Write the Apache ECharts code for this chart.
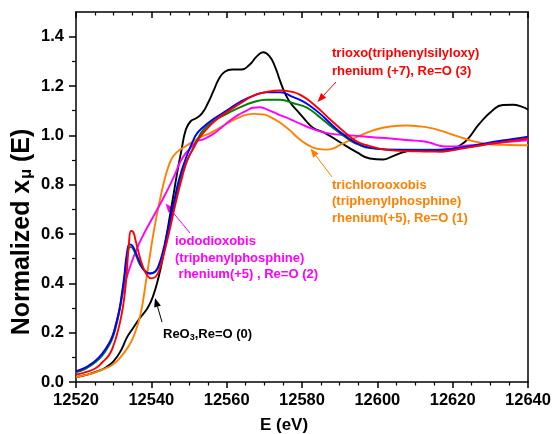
<!DOCTYPE html>
<html><head><meta charset="utf-8">
<script src="https://cdn.jsdelivr.net/npm/echarts@6/dist/echarts.min.js"></script>
<style>html,body{margin:0;padding:0;background:#fff}#c{width:554px;height:434px}</style>
</head><body><div id="c"></div>
<script>
const xMin = 12520, xMax = 12640, xStep = 20;
const yMajorTicks = [0, 0.2, 0.4, 0.6, 0.8, 1.0, 1.2, 1.4];
const yMinorTicks = [0.1, 0.3, 0.5, 0.7, 0.9, 1.1, 1.3];

const reo3 = [[12520,0.02],[12523,0.03],[12526,0.045],[12528,0.06],[12530,0.085],[12532,0.13],[12533.5,0.18],[12535,0.215],[12537,0.26],[12539,0.3],[12540.5,0.35],[12542,0.43],[12543,0.5],[12544,0.59],[12545,0.68],[12546,0.77],[12547,0.86],[12548,0.94],[12549.2,1.025],[12550.5,1.058],[12552,1.07],[12553.5,1.09],[12555,1.13],[12556.5,1.18],[12558,1.23],[12559.5,1.258],[12561.5,1.267],[12564,1.267],[12566,1.285],[12568,1.32],[12569.7,1.337],[12571.3,1.322],[12572.8,1.28],[12574.2,1.22],[12575.5,1.17],[12577,1.13],[12579,1.095],[12581,1.06],[12583,1.03],[12586,1.01],[12590,0.973],[12594.5,0.932],[12598,0.906],[12601.5,0.902],[12604,0.915],[12607,0.932],[12610,0.94],[12614,0.937],[12617.5,0.935],[12620,0.945],[12622,0.96],[12624,0.985],[12627,1.045],[12630.5,1.1],[12633.3,1.123],[12636,1.124],[12638.5,1.115],[12640,1.104]];
const trichloro = [[12520,0.02],[12523,0.03],[12525.3,0.04],[12527.5,0.053],[12529.7,0.07],[12531.5,0.095],[12533.3,0.13],[12534.7,0.165],[12535.9,0.21],[12536.9,0.26],[12537.7,0.32],[12538.4,0.39],[12539,0.45],[12540,0.55],[12541,0.64],[12542.3,0.74],[12543.5,0.82],[12544.7,0.88],[12545.8,0.915],[12547.2,0.937],[12549,0.955],[12551.1,0.975],[12553,0.993],[12555,1.005],[12557,1.02],[12560,1.047],[12563.5,1.074],[12567,1.087],[12569.7,1.085],[12571.5,1.075],[12573.3,1.06],[12575,1.042],[12576.8,1.02],[12578.5,0.995],[12580.3,0.973],[12582,0.957],[12583.9,0.946],[12586.5,0.942],[12588.5,0.948],[12590,0.96],[12592,0.975],[12594.5,0.993],[12598.9,1.02],[12603.4,1.036],[12607.8,1.04],[12611.3,1.036],[12614,1.03],[12617,1.018],[12619.3,1.006],[12622,0.993],[12624.6,0.98],[12627,0.971],[12630,0.964],[12635,0.961],[12640,0.96]];
const iodo = [[12520,0.04],[12522,0.05],[12523.5,0.065],[12525.3,0.085],[12527.1,0.113],[12528.5,0.145],[12529.7,0.185],[12530.7,0.24],[12531.5,0.29],[12532.3,0.35],[12533.2,0.41],[12534.2,0.46],[12536,0.535],[12538,0.6],[12540.5,0.67],[12543,0.74],[12545,0.8],[12546.5,0.85],[12547.6,0.89],[12549,0.925],[12550.5,0.95],[12552,0.975],[12553.8,0.984],[12556.5,1.006],[12558.5,1.03],[12560.9,1.06],[12563,1.082],[12565.3,1.1],[12567,1.112],[12568.8,1.114],[12570.5,1.106],[12572.4,1.094],[12574.5,1.08],[12576.8,1.066],[12579.5,1.047],[12582.1,1.03],[12585,1.015],[12587.4,1.007],[12592.7,1.0],[12598,0.993],[12603.4,0.987],[12608.7,0.98],[12612,0.976],[12614,0.97],[12616,0.96],[12618,0.955],[12620,0.955],[12625,0.96],[12630,0.966],[12635,0.974],[12640,0.98]];
const greenS = [[12520,0.04],[12522,0.05],[12523.5,0.063],[12525.3,0.082],[12527.1,0.11],[12528.5,0.142],[12529.7,0.178],[12530.7,0.23],[12531.5,0.285],[12532.2,0.35],[12532.8,0.415],[12533.6,0.51],[12534.4,0.548],[12535,0.543],[12536,0.51],[12537.2,0.47],[12538.5,0.447],[12539.6,0.44],[12541,0.447],[12542,0.47],[12543,0.515],[12544,0.575],[12545,0.645],[12546,0.715],[12547,0.78],[12548,0.835],[12549,0.88],[12550,0.915],[12551,0.945],[12552.3,0.985],[12553.8,1.022],[12556.5,1.058],[12560,1.087],[12563.5,1.113],[12567,1.134],[12570.6,1.144],[12574.2,1.144],[12577.7,1.13],[12580,1.12],[12582.1,1.105],[12585,1.07],[12587.4,1.04],[12590,1.01],[12592.7,0.98],[12595,0.962],[12598,0.948],[12603,0.942],[12611,0.942],[12616,0.942],[12622,0.948],[12626,0.957],[12631,0.97],[12636,0.98],[12640,0.99]];
const blueS = [[12520,0.044],[12522,0.055],[12523.5,0.068],[12525.3,0.088],[12527.1,0.118],[12528.5,0.15],[12529.7,0.187],[12530.7,0.24],[12531.5,0.293],[12532.2,0.36],[12532.8,0.427],[12533.5,0.52],[12534.2,0.558],[12534.8,0.555],[12535.7,0.53],[12536.8,0.49],[12538,0.455],[12539.6,0.44],[12541,0.447],[12542,0.475],[12543,0.525],[12544,0.59],[12545,0.66],[12546,0.73],[12547,0.8],[12548,0.855],[12549,0.9],[12550,0.94],[12551,0.975],[12552,1.005],[12553.5,1.03],[12556.5,1.066],[12560,1.1],[12563.5,1.135],[12567,1.16],[12570.6,1.174],[12574.2,1.174],[12577.7,1.155],[12580,1.14],[12582.1,1.12],[12585,1.085],[12587.4,1.05],[12590,1.015],[12592.7,0.985],[12595,0.965],[12598,0.95],[12603,0.942],[12611,0.94],[12616,0.94],[12622,0.95],[12626,0.96],[12631,0.974],[12636,0.985],[12640,0.995]];
const trioxo = [[12520,0.03],[12523,0.042],[12525.3,0.057],[12527,0.08],[12528.8,0.11],[12530,0.15],[12531,0.2],[12532,0.265],[12532.8,0.34],[12533.4,0.43],[12534,0.55],[12534.6,0.612],[12535.1,0.61],[12535.8,0.575],[12536.7,0.52],[12537.7,0.47],[12538.8,0.435],[12540,0.42],[12541,0.425],[12542,0.45],[12543,0.5],[12544,0.56],[12545,0.625],[12546,0.695],[12547,0.76],[12548,0.82],[12549,0.875],[12550,0.915],[12551.1,0.945],[12552.9,0.993],[12555,1.03],[12557,1.06],[12560,1.094],[12563.5,1.128],[12567,1.16],[12570.6,1.176],[12574.2,1.182],[12577.7,1.175],[12580,1.16],[12582.1,1.138],[12585,1.1],[12587.4,1.065],[12590,1.03],[12592.7,0.995],[12595,0.972],[12597.2,0.96],[12601.6,0.943],[12606,0.937],[12611,0.935],[12616,0.934],[12619,0.937],[12622,0.945],[12626,0.955],[12631,0.968],[12636,0.978],[12640,0.987]];

const FONT = '"Liberation Sans", Arial, sans-serif';
const chart = echarts.init(document.getElementById('c'), null, {renderer: 'canvas'});

function arrow(x1, y1, x2, y2, color) {
  const dx = x2 - x1, dy = y2 - y1, L = Math.hypot(dx, dy), ux = dx / L, uy = dy / L;
  const hl = 9, hw = 3.5;
  const bx = x2 - ux * hl, by = y2 - uy * hl;
  return [
    {type: 'line', silent: true, shape: {x1: x1, y1: y1, x2: bx, y2: by}, style: {stroke: color, lineWidth: 1}},
    {type: 'polygon', silent: true, shape: {points: [[x2, y2], [bx - uy * hw, by + ux * hw], [bx + uy * hw, by - ux * hw]]}, style: {fill: color}}
  ];
}

function lineSeries(name, data, color) {
  return {
    name: name, type: 'line', data: data, showSymbol: false, symbol: 'none',
    smooth: 0.5,
    lineStyle: {color: color, width: 1.9, join: 'round'}, itemStyle: {color: color},
    xAxisIndex: 0, yAxisIndex: 0, z: 3
  };
}

const axisLineStyle = {color: '#000', width: 1.5};
const labelStyle = {color: '#000', fontSize: 16.5, fontWeight: 'bold', fontFamily: FONT};

const option = {
  animation: false,
  backgroundColor: '#fff',
  grid: {left: 76, right: 26, top: 12, bottom: 52, containLabel: false},
  xAxis: [
    {type: 'value', position: 'bottom', min: xMin, max: xMax, interval: xStep,
     axisLine: {show: true, onZero: false, lineStyle: axisLineStyle},
     axisTick: {show: true, length: 6, lineStyle: {color: '#000', width: 1.5}},
     minorTick: {show: true, splitNumber: 4, length: 3.5, lineStyle: {color: '#000', width: 1.2}},
     axisLabel: Object.assign({margin: 10, formatter: v => String(v)}, labelStyle),
     splitLine: {show: false}, minorSplitLine: {show: false}},
    {type: 'value', position: 'top', min: xMin, max: xMax, interval: xStep,
     axisLine: {show: true, onZero: false, lineStyle: axisLineStyle},
     axisTick: {show: true, inside: true, length: 6, lineStyle: {color: '#000', width: 1.5}},
     minorTick: {show: true, splitNumber: 4, length: 3.5, lineStyle: {color: '#000', width: 1.2}},
     axisLabel: {show: false}, splitLine: {show: false}}
  ],
  yAxis: [
    {type: 'value', position: 'left', min: 0, max: 1.5,
     axisLine: {show: true, onZero: false, lineStyle: axisLineStyle},
     axisTick: {show: true, length: 7, customValues: yMajorTicks, lineStyle: {color: '#000', width: 1.5}},
     axisLabel: Object.assign({margin: 12, customValues: yMajorTicks, formatter: v => v.toFixed(1)}, labelStyle),
     splitLine: {show: false}},
    {type: 'value', position: 'left', min: 0, max: 1.5,
     axisLine: {show: false},
     axisTick: {show: true, length: 4, customValues: yMinorTicks, lineStyle: {color: '#000', width: 1.2}},
     axisLabel: {show: false}, splitLine: {show: false}},
    {type: 'value', position: 'right', min: 0, max: 1.5,
     axisLine: {show: true, onZero: false, lineStyle: axisLineStyle},
     axisTick: {show: false}, axisLabel: {show: false}, splitLine: {show: false}}
  ],
  series: [
    lineSeries('ReO3', reo3, '#000000'),
    lineSeries('trichlorooxobis', trichloro, '#ff8000'),
    lineSeries('iododioxobis', iodo, '#ff00ff'),
    lineSeries('green', greenS, '#008000'),
    lineSeries('blue', blueS, '#0000ff'),
    lineSeries('trioxo', trioxo, '#ff0000')
  ],
  graphic: [
    {type: 'text', silent: true, x: 22, y: 232, rotation: Math.PI / 2,
     style: {text: '{n|Normalized x}{m|μ}{n| (E)}', align: 'center', verticalAlign: 'middle',
       rich: {n: {fontSize: 25, fontWeight: 'bold', fontFamily: FONT, fill: '#000'},
              m: {fontSize: 16, fontWeight: 'bold', fontFamily: FONT, fill: '#000', padding: [9, 0, 0, 1]}}}},
    {type: 'text', silent: true, x: 284, y: 425,
     style: {text: 'E (eV)', align: 'center', verticalAlign: 'middle', fill: '#000', font: 'bold 17px ' + FONT}},
    {type: 'text', silent: true, x: 332, y: 44,
     style: {text: 'trioxo(triphenylsilyloxy)\nrhenium (+7), Re=O (3)', fill: '#ff0000', font: 'bold 13px ' + FONT, lineHeight: 18, align: 'left', verticalAlign: 'top'}},
    {type: 'text', silent: true, x: 332, y: 177,
     style: {text: 'trichlorooxobis\n(triphenylphosphine)\nrhenium(+5), Re=O (1)', fill: '#ff8000', font: 'bold 13px ' + FONT, lineHeight: 16.5, align: 'left', verticalAlign: 'top'}},
    {type: 'text', silent: true, x: 175, y: 233.5,
     style: {text: 'iododioxobis\n(triphenylphosphine)\n rhenium(+5) , Re=O (2)', fill: '#ff00ff', font: 'bold 13px ' + FONT, lineHeight: 16.5, align: 'left', verticalAlign: 'top'}},
    {type: 'text', silent: true, x: 163, y: 334,
     style: {text: '{a|ReO}{s|3}{a|,Re=O (0)}', align: 'left', verticalAlign: 'middle',
       rich: {a: {fontSize: 13, fontWeight: 'bold', fontFamily: FONT, fill: '#000'},
              s: {fontSize: 9, fontWeight: 'bold', fontFamily: FONT, fill: '#000', padding: [8, 0, 0, 0]}}}}
  ].concat(
    arrow(336, 82, 317.5, 102, '#ff0000'),
    arrow(332, 177, 310.5, 148.5, '#ff8000'),
    arrow(190, 233, 165.5, 203.5, '#ff00ff'),
    arrow(162, 322, 155, 298, '#000000')
  )
};
chart.setOption(option);
</script>
</body></html>
